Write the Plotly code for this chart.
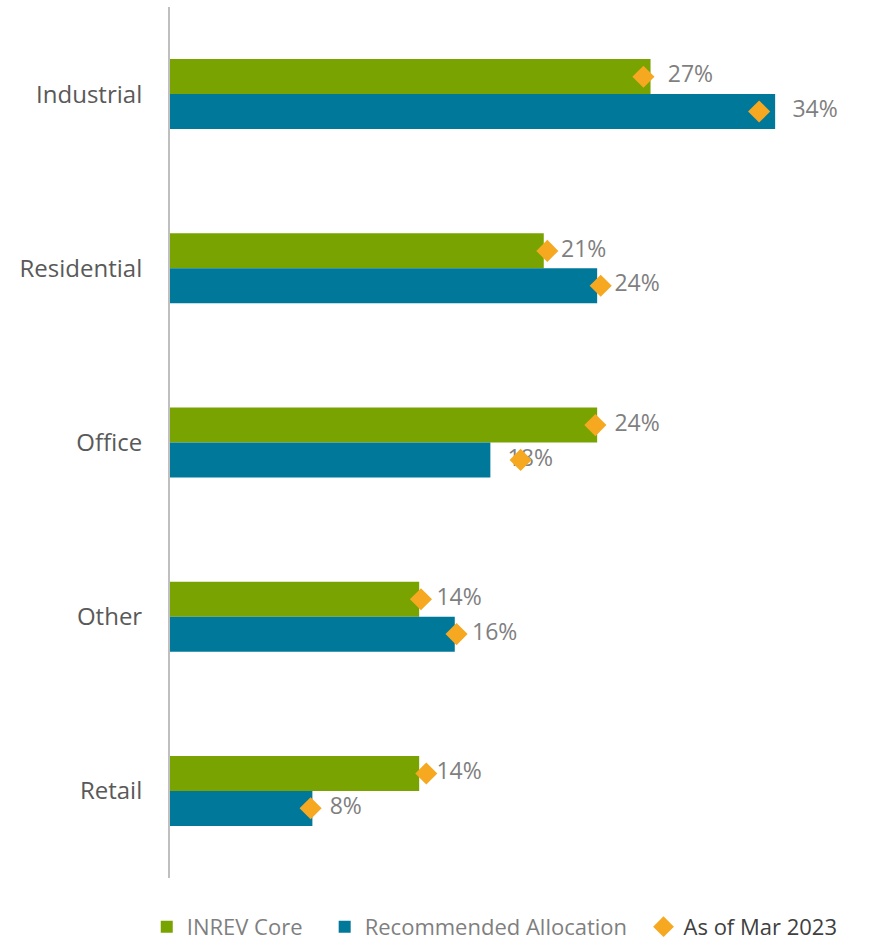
import plotly.graph_objects as go

# Sector weights (%)
sectors = ["Industrial", "Residential", "Office", "Other", "Retail"]
inrev_core = [27, 21, 24, 14, 14]
recommended = [34, 24, 18, 16, 8]
# Position as of Mar 2023 (%)
mar2023_core = [26.6, 21.2, 23.9, 14.1, 14.4]
mar2023_recommended = [33.1, 24.2, 19.7, 16.1, 7.9]

GREEN = "#78A300"
TEAL = "#00789A"
ORANGE = "#F6A821"
LABEL_GREY = "#7F7F7F"
FONT = "Open Sans"
NBSP = "\u00a0"

idx = list(range(len(sectors)))
fig = go.Figure()

fig.add_trace(go.Bar(
    y=idx, x=inrev_core, orientation="h", name="INREV Core" + NBSP * 3,
    marker=dict(color=GREEN, line=dict(width=0)),
))
fig.add_trace(go.Bar(
    y=idx, x=recommended, orientation="h", name="Recommended Allocation" + NBSP * 2,
    marker=dict(color=TEAL, line=dict(width=0)),
))

# value labels to the right of each bar
half = 0.1
for vals, off in ((inrev_core, -half), (recommended, half)):
    fig.add_trace(go.Scatter(
        x=vals, y=[i + off for i in idx], mode="markers+text",
        text=[f"{v}%" for v in vals], textposition="middle right",
        textfont=dict(family=FONT, size=23, color=LABEL_GREY),
        marker=dict(size=26, color="rgba(0,0,0,0)"),
        showlegend=False, hoverinfo="skip", cliponaxis=False,
    ))

# Mar 2023 markers
fig.add_trace(go.Scatter(
    x=mar2023_core, y=[i - half for i in idx], mode="markers",
    marker=dict(symbol="diamond", size=17, color=ORANGE),
    name="<span style='color:#404040'>As of Mar 2023</span>",
    legendgroup="mar", cliponaxis=False,
))
fig.add_trace(go.Scatter(
    x=mar2023_recommended, y=[i + half for i in idx], mode="markers",
    marker=dict(symbol="diamond", size=17, color=ORANGE),
    name="As of Mar 2023", legendgroup="mar", showlegend=False, cliponaxis=False,
))

fig.update_layout(
    width=884, height=941,
    margin=dict(l=170, r=14, t=7, b=63),
    paper_bgcolor="white", plot_bgcolor="white",
    barmode="group", bargap=0.598, bargroupgap=0,
    font=dict(family=FONT, color=LABEL_GREY),
    showlegend=True,
    legend=dict(
        orientation="h", xref="container", yref="container",
        x=0.166, xanchor="left", y=0.015, yanchor="middle",
        font=dict(family=FONT, size=22, color=LABEL_GREY),
        bgcolor="rgba(0,0,0,0)", traceorder="normal",
    ),
    xaxis=dict(
        range=[0, 39.33], showgrid=False, zeroline=False,
        showticklabels=False, showline=False, ticks="",
    ),
    yaxis=dict(
        range=[4.5, -0.5], tickmode="array", tickvals=idx, ticktext=sectors,
        showgrid=False, zeroline=False, ticks="",
        showline=True, linecolor="#BFBFBF", linewidth=2,
        tickfont=dict(family=FONT, size=24, color="#595959"),
        ticklabelstandoff=21,
    ),
)

fig.write_html("out.html")
